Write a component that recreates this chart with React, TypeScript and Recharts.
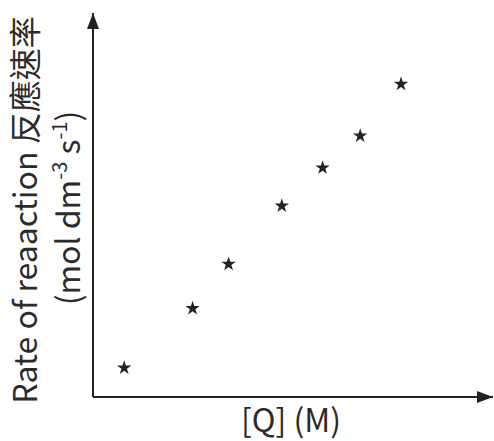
import React from "react";
import { ScatterChart, Scatter, XAxis, YAxis, ZAxis } from "recharts";

const concentration = [0.78, 2.49, 3.39, 4.72, 5.74, 6.68, 7.7];
const rate = [0.76, 2.31, 3.46, 4.98, 5.97, 6.8, 8.15];

const points = concentration.map((q, i) => ({ q, rate: rate[i] }));

const ink = "#222";
const textInk = "#2b2b2b";
const font = '"Noto Sans CJK TC", "Noto Sans", sans-serif';

function YTitle() {
  return (
    <g fill={textInk} fontFamily={font} fontSize={32}>
      <text x={37} y={210} textAnchor="middle" transform="rotate(-90, 37, 210)">
        Rate of reaaction  反應速率
      </text>
      <text x={80} y={208} textAnchor="middle" transform="rotate(-90, 80, 208)">
        (mol dm
        <tspan fontSize={20} dy={-13}>-3</tspan>
        <tspan dy={13}> s</tspan>
        <tspan fontSize={20} dy={-13}>-1</tspan>
        <tspan dy={13}>)</tspan>
      </text>
    </g>
  );
}

function XTitle() {
  return (
    <text
      x={291}
      y={432}
      textAnchor="middle"
      fill={textInk}
      fontFamily={font}
      fontSize={32}
    >
      [Q] (M)
    </text>
  );
}

export default function App() {
  return (
    <div style={{ position: "absolute", left: 0, top: 0 }}>
      <ScatterChart
        width={494}
        height={441}
        margin={{ top: 13, right: 1, bottom: 43, left: 92 }}
      >
        <defs>
          <marker
            id="arrow"
            viewBox="0 0 16 12"
            markerUnits="userSpaceOnUse"
            markerWidth={16}
            markerHeight={12}
            refX={16}
            refY={6}
            orient="auto-start-reverse"
          >
            <path d="M0,0 L16,6 L0,12 z" fill={ink} />
          </marker>
        </defs>
        <XAxis
          type="number"
          dataKey="q"
          domain={[0, 10]}
          height={1}
          tick={false}
          tickLine={false}
          axisLine={{ stroke: ink, strokeWidth: 2, markerEnd: "url(#arrow)" }}
          label={{ content: () => <XTitle /> }}
        />
        <YAxis
          type="number"
          dataKey="rate"
          domain={[0, 10]}
          width={1}
          tick={false}
          tickLine={false}
          axisLine={{ stroke: ink, strokeWidth: 2, markerStart: "url(#arrow)" }}
          label={{ content: () => <YTitle /> }}
        />
        <ZAxis range={[24, 24]} />
        <Scatter data={points} shape="star" fill={ink} isAnimationActive={false} />
      </ScatterChart>
    </div>
  );
}
